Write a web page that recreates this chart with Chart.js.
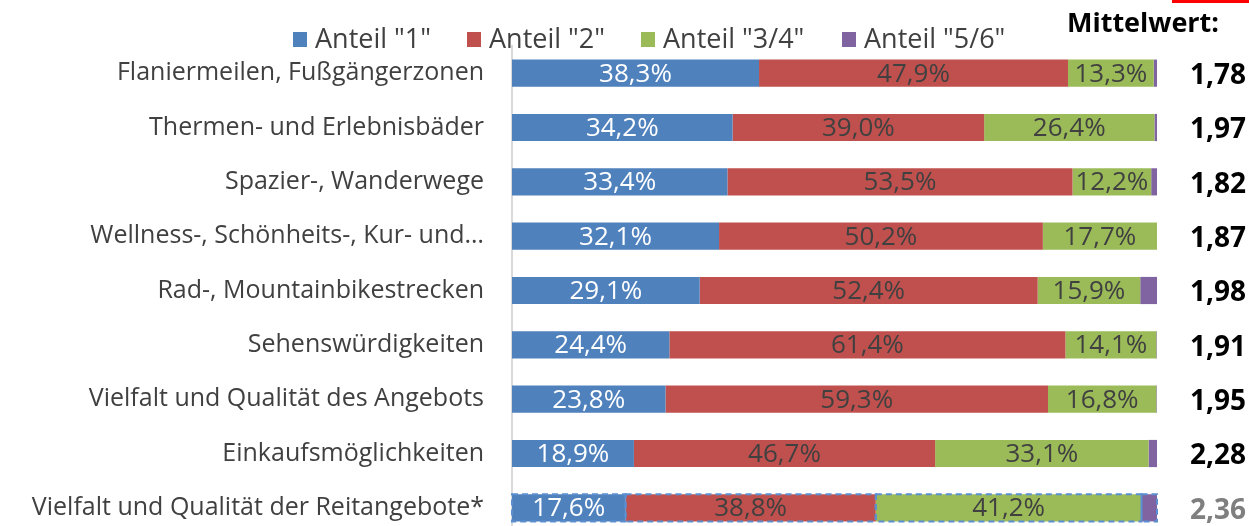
<!DOCTYPE html>
<html>
<head>
<meta charset="utf-8">
<script src="https://cdn.jsdelivr.net/npm/chart.js@4/dist/chart.umd.min.js"></script>
<style>
  html, body { margin: 0; padding: 0; background: #fff; }
  #wrap { width: 1249px; height: 526px; overflow: hidden; position: relative; }
  canvas { display: block; }
</style>
</head>
<body>
<div id="wrap"><canvas id="c" width="1249" height="545"></canvas></div>
<script>
const categories = [
  'Flaniermeilen, Fußgängerzonen',
  'Thermen- und Erlebnisbäder',
  'Spazier-, Wanderwege',
  'Wellness-, Schönheits-, Kur- und…',
  'Rad-, Mountainbikestrecken',
  'Sehenswürdigkeiten',
  'Vielfalt und Qualität des Angebots',
  'Einkaufsmöglichkeiten',
  'Vielfalt und Qualität der Reitangebote*'
];
const seriesNames = ['Anteil "1"', 'Anteil "2"', 'Anteil "3/4"', 'Anteil "5/6"'];
const share1  = [38.3, 34.2, 33.4, 32.1, 29.1, 24.4, 23.8, 18.9, 17.6];
const share2  = [47.9, 39.0, 53.5, 50.2, 52.4, 61.4, 59.3, 46.7, 38.8];
const share34 = [13.3, 26.4, 12.2, 17.7, 15.9, 14.1, 16.8, 33.1, 41.2];
const share56 = [0.5, 0.4, 0.9, 0.0, 2.6, 0.1, 0.1, 1.3, 2.4];
const means   = [1.78, 1.97, 1.82, 1.87, 1.98, 1.91, 1.95, 2.28, 2.36];
const meanTitle = 'Mittelwert:';

const colors = ['#4f81bd', '#c0504d', '#9bbb59', '#8064a2'];
const labelColors = ['#ffffff', '#404040', '#404040', null];
const FONT = '"Open Sans", sans-serif';
const fmtPct = v => v.toFixed(1).replace('.', ',') + '%';
const fmtMean = v => v.toFixed(2).replace('.', ',');

const extras = {
  id: 'extras',
  afterDatasetsDraw(chart) {
    const ctx = chart.ctx;
    ctx.save();
    // data labels
    chart.data.datasets.forEach((ds, di) => {
      if (!labelColors[di]) return;
      const meta = chart.getDatasetMeta(di);
      meta.data.forEach((bar, i) => {
        const v = ds.data[i];
        if (v < 3) return;
        const p = bar.getProps(['x', 'y', 'base'], true);
        ctx.font = '26px ' + FONT;
        ctx.fillStyle = labelColors[di];
        ctx.textAlign = 'center';
        ctx.textBaseline = 'middle';
        ctx.fillText(fmtPct(v), (p.x + p.base) / 2, p.y + 1);
      });
    });
    // dashed outline on last category
    const last = categories.length - 1;
    ctx.setLineDash([6, 4]);
    ctx.strokeStyle = '#5b8fd0';
    ctx.lineWidth = 2;
    chart.data.datasets.forEach((ds, di) => {
      const bar = chart.getDatasetMeta(di).data[last];
      const p = bar.getProps(['x', 'y', 'base', 'height'], true);
      if (Math.abs(p.x - p.base) < 0.5) return;
      ctx.strokeRect(Math.min(p.x, p.base), p.y - p.height / 2, Math.abs(p.x - p.base), p.height);
    });
    ctx.setLineDash([]);
    // mean values
    const yScale = chart.scales.y;
    means.forEach((m, i) => {
      ctx.font = 'bold 28px ' + FONT;
      ctx.fillStyle = i === last ? '#7f7f7f' : '#000000';
      ctx.textAlign = 'right';
      ctx.textBaseline = 'middle';
      ctx.fillText(fmtMean(m), 1246, yScale.getPixelForValue(i) + 3);
    });
    // mean title
    ctx.font = 'bold 27px ' + FONT;
    ctx.fillStyle = '#000000';
    ctx.textAlign = 'center';
    ctx.textBaseline = 'middle';
    ctx.fillText(meanTitle, 1143, 24);
    // red mark top right
    ctx.fillStyle = '#ff0000';
    ctx.fillRect(1172, 0, 77, 3);
    // legend
    const legX = [293, 467, 641, 842];
    seriesNames.forEach((n, i) => {
      ctx.fillStyle = colors[i];
      ctx.fillRect(legX[i], 32, 14, 15);
      ctx.font = '27px ' + FONT;
      ctx.fillStyle = '#404040';
      ctx.textAlign = 'left';
      ctx.textBaseline = 'middle';
      ctx.fillText(n, legX[i] + 22, 40);
    });
    ctx.restore();
  }
};

new Chart(document.getElementById('c'), {
  type: 'bar',
  data: {
    labels: categories,
    datasets: [share1, share2, share34, share56].map((d, i) => ({
      label: seriesNames[i],
      data: d,
      backgroundColor: colors[i],
      borderWidth: 0,
      categoryPercentage: 1,
      barPercentage: 0.5
    }))
  },
  options: {
    indexAxis: 'y',
    responsive: false,
    animation: false,
    layout: { padding: { top: 46, right: 92, bottom: 10, left: 0 } },
    plugins: { legend: { display: false }, tooltip: { enabled: false } },
    scales: {
      x: { stacked: true, min: 0, max: 100, display: false },
      y: {
        stacked: true,
        grid: { display: false, drawTicks: false },
        border: { display: true, color: '#d9d9d9', width: 2 },
        ticks: { color: '#404040', font: { family: FONT, size: 25 }, padding: 28, autoSkip: false },
        afterFit(scale) { scale.width = 512; scale.paddingTop = 0; scale.paddingBottom = 0; }
      }
    }
  },
  plugins: [extras]
});
</script>
</body>
</html>
